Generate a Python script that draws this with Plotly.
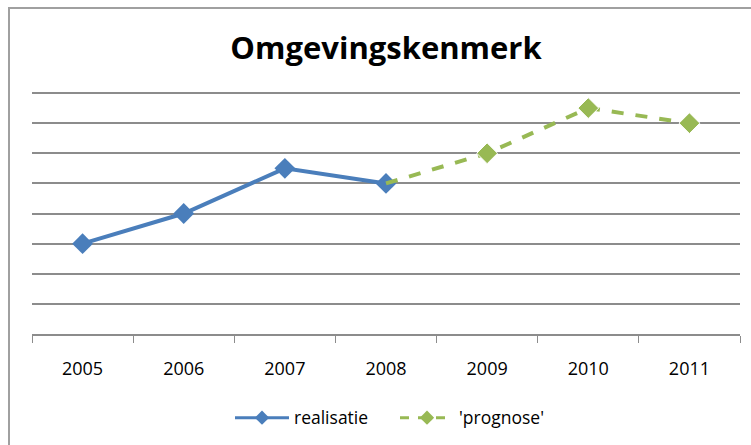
import plotly.graph_objects as go

years = ["2005", "2006", "2007", "2008", "2009", "2010", "2011"]
realisatie_years = ["2005", "2006", "2007", "2008"]
realisatie = [3, 4, 5.5, 5]
prognose_years = ["2008", "2009", "2010", "2011"]
prognose = [5, 6, 7.5, 7]

BLUE = "#4A7EBB"
GREEN = "#98B954"
GRID = "#8C8C8C"
FONT = "Open Sans"
MS = 16

fig = go.Figure()
fig.add_trace(go.Scatter(
    x=realisatie_years, y=realisatie, name="realisatie", mode="lines+markers",
    line=dict(color=BLUE, width=4), showlegend=False,
    marker=dict(symbol="diamond", size=MS, color=BLUE, opacity=1),
))
# prognose: no marker on the shared 2008 point
prog_sizes = [0] + [MS] * (len(prognose) - 1)
fig.add_trace(go.Scatter(
    x=prognose_years, y=prognose, name="'prognose'", mode="lines+markers",
    line=dict(color=GREEN, width=4, dash="dash"), showlegend=False,
    marker=dict(symbol="diamond", size=prog_sizes, color=GREEN, opacity=1),
))
# legend entries
fig.add_trace(go.Scatter(
    x=[None], y=[None], name="realisatie", mode="lines+markers",
    line=dict(color=BLUE, width=3), marker=dict(symbol="diamond", size=11, color=BLUE),
))
fig.add_trace(go.Scatter(
    x=[None], y=[None], name="'prognose'", mode="lines+markers",
    line=dict(color=GREEN, width=3, dash="dash"), marker=dict(symbol="diamond", size=11, color=GREEN),
))

YTOP = 8.3
fig.update_layout(
    width=751, height=445,
    margin=dict(l=32, r=11, t=84, b=111, autoexpand=False),
    paper_bgcolor="white", plot_bgcolor="white",
    font=dict(family=FONT, color="black"),
    title=dict(text="<b>Omgevingskenmerk</b>", x=386 / 751, xanchor="center",
               y=1 - 48 / 445, yanchor="middle", font=dict(size=31, family=FONT, color="black")),
    showlegend=True,
    legend=dict(orientation="h", x=(230 - 32) / 708, xanchor="left", y=-0.335, yanchor="middle",
                font=dict(size=17.5, family=FONT), itemwidth=54,
                entrywidth=96, entrywidthmode="pixels"),
    xaxis=dict(
        type="category", categoryorder="array", categoryarray=years,
        range=[-0.5, 6.5], tickson="boundaries", ticks="outside", ticklen=7,
        tickcolor=GRID, showline=True, linecolor=GRID, linewidth=2,
        showgrid=False, tickfont=dict(size=18, family=FONT), ticklabelstandoff=17,
    ),
    yaxis=dict(
        range=[0, YTOP], dtick=1, showticklabels=False, showgrid=True,
        gridcolor=GRID, gridwidth=2, zeroline=False, showline=False, ticks="",
    ),
    shapes=[dict(type="rect", xref="paper", yref="paper",
                 x0=(9 - 32) / 708, x1=1.2, y0=-0.8, y1=1 + (84 - 8) / 250,
                 line=dict(color="#A0A0A0", width=2), layer="below")],
)

fig.write_html("out.html", config={"displayModeBar": False},
               post_script="document.body.style.margin='0';")
